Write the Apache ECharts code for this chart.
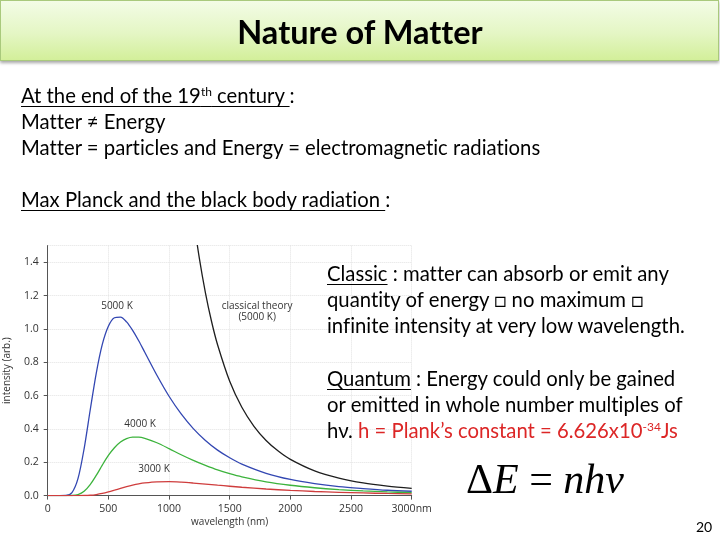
<!DOCTYPE html>
<html>
<head>
<meta charset="utf-8">
<script src="https://cdn.jsdelivr.net/npm/echarts@6/dist/echarts.min.js"></script>
<style>
  html, body { margin:0; padding:0; background:#fff; }
  #wrap { position:relative; width:720px; height:540px; overflow:hidden; background:#fff; }
  #chart { position:absolute; left:0; top:0; width:720px; height:540px; }
  .bar { position:absolute; left:0; top:0; width:717px; height:59px;
         background:linear-gradient(to bottom, #f3fce6 0%, #e4f6c4 55%, #d3ef9a 100%);
         border:1px solid #a9c97c; box-shadow:0 2px 3px rgba(0,0,0,0.35); }
  .title { position:absolute; left:0; top:0; width:720px; height:62px; line-height:64px;
           text-align:center; font-family:Lato, sans-serif; font-weight:700; font-size:32.5px; color:#000;
           font-variant-ligatures:none; }
  .txt { position:absolute; font-family:Lato, sans-serif; font-size:20.3px; line-height:26px; color:#000; white-space:nowrap;
         font-variant-ligatures:none; }
  .u { text-decoration:underline; text-underline-offset:3px; text-decoration-thickness:1px; }
  sup { font-size:12px; line-height:0; vertical-align:7px; }
  .red { color:#dc2626; }
  .formula { position:absolute; left:466px; top:454px; font-family:"Liberation Serif", serif; font-size:42px; line-height:50px; color:#000; white-space:nowrap; }
  .formula i { font-style:italic; }
  .page { position:absolute; left:696px; top:518px; font-family:Lato, sans-serif; font-size:14px; color:#000; }
</style>
</head>
<body>
<div id="wrap">
  <div id="chart"></div>
  <div class="bar"></div>
  <div class="title">Nature of Matter</div>
  <div class="txt" style="left:21px; top:82px;">
    <span class="u">At the end of the 19<sup>th</sup> century </span>:<br>
    Matter ≠ Energy<br>
    Matter = particles and Energy = electromagnetic radiations<br>
    &nbsp;<br>
    <span class="u">Max Planck and the black body radiation </span>:
  </div>
  <div class="txt" style="left:327px; top:260px;">
    <span class="u">Classic</span> : matter can absorb or emit any<br>
    quantity of energy □ no maximum □<br>
    infinite intensity at very low wavelength.
  </div>
  <div class="txt" style="left:327px; top:365px;">
    <span class="u">Quantum</span> : Energy could only be gained<br>
    or emitted in whole number multiples of<br>
    hν. <span class="red">h = Plank’s constant = 6.626x10<sup>-34</sup>Js</span>
  </div>
  <div class="formula">Δ<i>E</i> = <i>nhν</i></div>
  <div class="page">20</div>
</div>
<script>
// Wavelengths (nm) sampled for the quantum (Planck) curves
const wavelengths = [0, 50, 100, 150, 200, 250, 300, 350, 400, 450, 500, 550, 600, 650, 700, 750, 800, 900, 1000, 1100, 1200, 1300, 1400, 1500, 1600, 1800, 2000, 2200, 2400, 2600, 2800, 3000];
const intensity5000 = [0, 0, 0, 0.0006, 0.018, 0.103, 0.281, 0.512, 0.734, 0.907, 1.016, 1.067, 1.071, 1.042, 0.991, 0.929, 0.860, 0.722, 0.596, 0.490, 0.402, 0.331, 0.273, 0.227, 0.189, 0.134, 0.097, 0.072, 0.054, 0.042, 0.032, 0.026];
const intensity4000 = [0, 0, 0, 0, 0.0005, 0.0058, 0.0255, 0.0655, 0.121, 0.183, 0.241, 0.287, 0.321, 0.342, 0.351, 0.351, 0.344, 0.317, 0.282, 0.245, 0.211, 0.181, 0.154, 0.132, 0.113, 0.083, 0.062, 0.047, 0.036, 0.028, 0.022, 0.018];
const intensity3000 = [0, 0, 0, 0, 0, 0, 0.0005, 0.0021, 0.0061, 0.0127, 0.0218, 0.0324, 0.0435, 0.0539, 0.063, 0.0705, 0.0762, 0.0825, 0.0833, 0.0804, 0.0752, 0.0691, 0.0625, 0.0561, 0.0501, 0.0396, 0.0313, 0.0247, 0.0197, 0.0158, 0.0128, 0.0104];
// Classical theory (5000 K)
const classicalWavelengths = [1150, 1200, 1250, 1300, 1350, 1400, 1500, 1600, 1700, 1800, 1900, 2000, 2200, 2400, 2600, 2800, 3000];
const classical5000 = [1.987, 1.676, 1.423, 1.217, 1.046, 0.905, 0.686, 0.530, 0.416, 0.331, 0.267, 0.217, 0.148, 0.105, 0.076, 0.057, 0.043];
// Tick labels
const xTickLabels = { 0: '0', 500: '500', 1000: '1000', 1500: '1500', 2000: '2000', 2500: '2500', 3000: '3000nm' };
const curveNames = ['5000 K', '4000 K', '3000 K', 'classical theory\n(5000 K)'];

const pairs = (xs, ys) => xs.map((x, i) => [x, ys[i]]);
const font = '"Open Sans", sans-serif';
const labelStyle = { color: '#333', fontSize: 10, fontFamily: font, lineHeight: 11 };

function annot(name, coord) {
  return {
    symbol: 'circle', symbolSize: 1, itemStyle: { color: 'rgba(0,0,0,0)' },
    silent: true, animation: false,
    label: Object.assign({ show: true, position: 'inside', formatter: name }, labelStyle),
    data: [{ coord: coord }]
  };
}

const chart = echarts.init(document.getElementById('chart'), null, { renderer: 'canvas' });
chart.setOption({
  animation: false,
  backgroundColor: 'transparent',
  grid: { left: 47.7, top: 245.6, width: 364, height: 250, outerBoundsMode: 'none' },
  xAxis: {
    type: 'value', min: 0, max: 3000, interval: 500,
    axisLine: { show: true, lineStyle: { color: '#555', width: 1 } },
    axisTick: { show: true, length: 4, lineStyle: { color: '#555' } },
    axisLabel: { color: '#333', fontSize: 10.5, fontFamily: font, margin: 8,
      formatter: v => xTickLabels[v] !== undefined ? xTickLabels[v] : '' },
    splitLine: { show: true, lineStyle: { color: '#e2e2e2', type: 'dotted' } },
    name: 'wavelength (nm)', nameLocation: 'middle', nameGap: 22,
    nameTextStyle: { color: '#333', fontSize: 10, fontFamily: font }
  },
  yAxis: {
    type: 'value', min: 0, max: 1.5, interval: 0.2,
    axisLine: { show: true, lineStyle: { color: '#555', width: 1 } },
    axisTick: { show: true, length: 4, lineStyle: { color: '#555' } },
    axisLabel: { color: '#333', fontSize: 10.5, fontFamily: font, margin: 9, showMaxLabel: false,
      formatter: v => v.toFixed(1) },
    splitLine: { show: true, lineStyle: { color: '#e2e2e2', type: 'dotted' } },
    name: 'intensity (arb.)', nameLocation: 'middle', nameGap: 36,
    nameTextStyle: { color: '#333', fontSize: 10, fontFamily: font }
  },
  series: [
    { name: curveNames[3], type: 'line', data: pairs(classicalWavelengths, classical5000), smooth: 0.3,
      showSymbol: false, lineStyle: { color: '#1e1e1e', width: 1.3 }, clip: true,
      markPoint: annot(curveNames[3], [1726, 1.104]) },
    { name: curveNames[0], type: 'line', data: pairs(wavelengths, intensity5000), smooth: 0.3,
      showSymbol: false, lineStyle: { color: '#3347b2', width: 1.3 },
      markPoint: annot(curveNames[0], [571, 1.138]) },
    { name: curveNames[1], type: 'line', data: pairs(wavelengths, intensity4000), smooth: 0.3,
      showSymbol: false, lineStyle: { color: '#3cb33c', width: 1.3 },
      markPoint: annot(curveNames[1], [761, 0.43]) },
    { name: curveNames[2], type: 'line', data: pairs(wavelengths, intensity3000), smooth: 0.3,
      showSymbol: false, lineStyle: { color: '#cf3d3d', width: 1.3 },
      markPoint: annot(curveNames[2], [876, 0.16]) }
  ]
});
</script>
</body>
</html>
